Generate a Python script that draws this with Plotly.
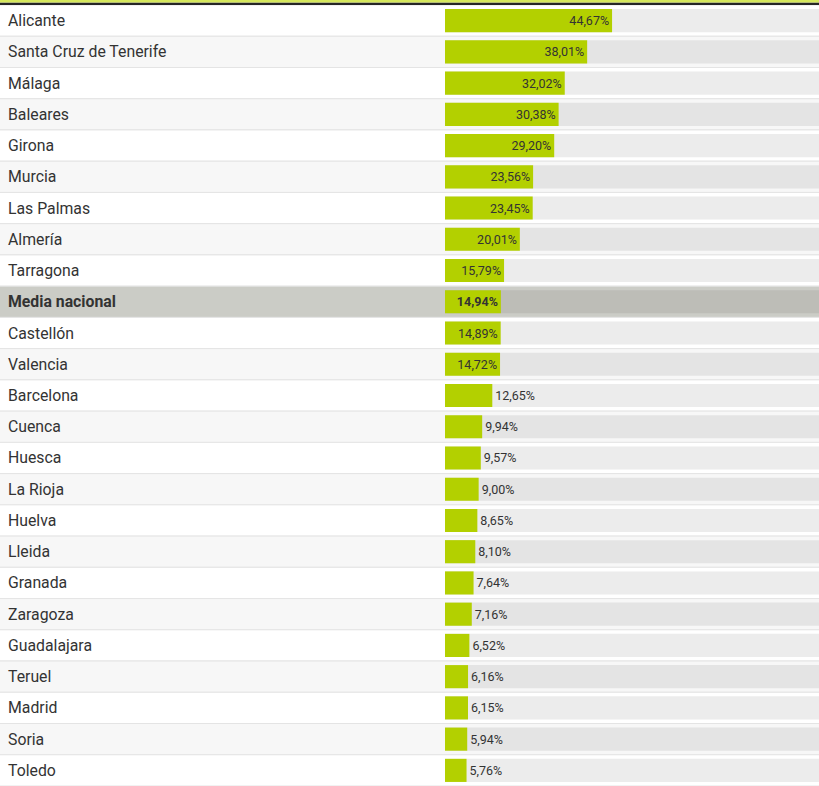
import plotly.graph_objects as go

provincias = [
    "Alicante", "Santa Cruz de Tenerife", "Málaga", "Baleares", "Girona",
    "Murcia", "Las Palmas", "Almería", "Tarragona", "Media nacional",
    "Castellón", "Valencia", "Barcelona", "Cuenca", "Huesca", "La Rioja",
    "Huelva", "Lleida", "Granada", "Zaragoza", "Guadalajara", "Teruel",
    "Madrid", "Soria", "Toledo",
]
porcentajes = [
    44.67, 38.01, 32.02, 30.38, 29.20,
    23.56, 23.45, 20.01, 15.79, 14.94,
    14.89, 14.72, 12.65, 9.94, 9.57, 9.00,
    8.65, 8.10, 7.64, 7.16, 6.52, 6.16,
    6.15, 5.94, 5.76,
]
MEDIA = "Media nacional"
TOPE = 100  # the grey track is the full 100 %

# styles
VERDE = "#b3d000"
FUENTE = "Roboto"
PX_POR_PUNTO = 3.74   # bar pixels per percentage point
INICIO_BARRA = 445    # pixel where bars start
ANCHO, ALTO = 819, 786

n = len(provincias)
filas = list(range(n))
es_media = [p == MEDIA for p in provincias]

fondo = ["#cbccc6" if m else ("#ffffff" if i % 2 == 0 else "#f7f7f7")
         for i, m in enumerate(es_media)]
pista = ["#bdbdb7" if m else ("#ececec" if i % 2 == 0 else "#e4e4e4")
         for i, m in enumerate(es_media)]

textos = []
for v, m in zip(porcentajes, es_media):
    t = f"{v:.2f}%".replace(".", ",")
    textos.append(f"<b>{t}</b>" if m else t)
posiciones = ["inside" if v >= 14 else "outside" for v in porcentajes]

fig = go.Figure()

# row backgrounds (their outline gives the row separators)
fig.add_trace(go.Bar(
    y=filas, x=[400] * n, base=-200, orientation="h", width=1,
    marker=dict(color=fondo, line=dict(color="#e4e4e4", width=1)),
    hoverinfo="skip", showlegend=False,
))
# grey track
fig.add_trace(go.Bar(
    y=filas, x=[TOPE] * n, base=0, orientation="h", width=0.74,
    marker=dict(color=pista, line=dict(width=0)),
    hoverinfo="skip", showlegend=False,
))
# values
fig.add_trace(go.Bar(
    y=filas, x=porcentajes, base=0, orientation="h", width=0.74,
    marker=dict(color=VERDE, line=dict(width=0)),
    text=textos, textposition=posiciones, insidetextanchor="end",
    textangle=0, constraintext="none", cliponaxis=False,
    insidetextfont=dict(family=FUENTE, size=12.5, color="#333333"),
    outsidetextfont=dict(family=FUENTE, size=12.5, color="#333333"),
    hoverinfo="skip", showlegend=False,
))

for i, (p, m) in enumerate(zip(provincias, es_media)):
    fig.add_annotation(
        x=0, xref="paper", xanchor="left", xshift=6,
        y=i, yref="y", yanchor="middle",
        text=f"<b>{p}</b>" if m else p, showarrow=False,
        font=dict(family=FUENTE, size=15.8, color="#333333"),
    )

# top border: lime band over a dark rule
fig.add_shape(type="rect", xref="paper", x0=0, x1=1, yref="paper",
              ysizemode="pixel", yanchor=1, y0=0, y1=2.5,
              fillcolor="#262626", line_width=0, layer="above")
fig.add_shape(type="rect", xref="paper", x0=0, x1=1, yref="paper",
              ysizemode="pixel", yanchor=1, y0=2.5, y1=5,
              fillcolor="#d6e85c", line_width=0, layer="above")

fig.update_layout(
    width=ANCHO, height=ALTO,
    margin=dict(l=0, r=0, t=5, b=0, pad=0),
    barmode="overlay",
    paper_bgcolor="#ffffff", plot_bgcolor="#ffffff",
    xaxis=dict(range=[-INICIO_BARRA / PX_POR_PUNTO, (ANCHO - INICIO_BARRA) / PX_POR_PUNTO],
               visible=False, fixedrange=True),
    yaxis=dict(range=[n - 0.5, -0.5], visible=False, fixedrange=True),
    font=dict(family=FUENTE),
    showlegend=False,
)

fig.write_html("out.html", config={"displayModeBar": False},
               post_script="document.body.style.margin='0';")
